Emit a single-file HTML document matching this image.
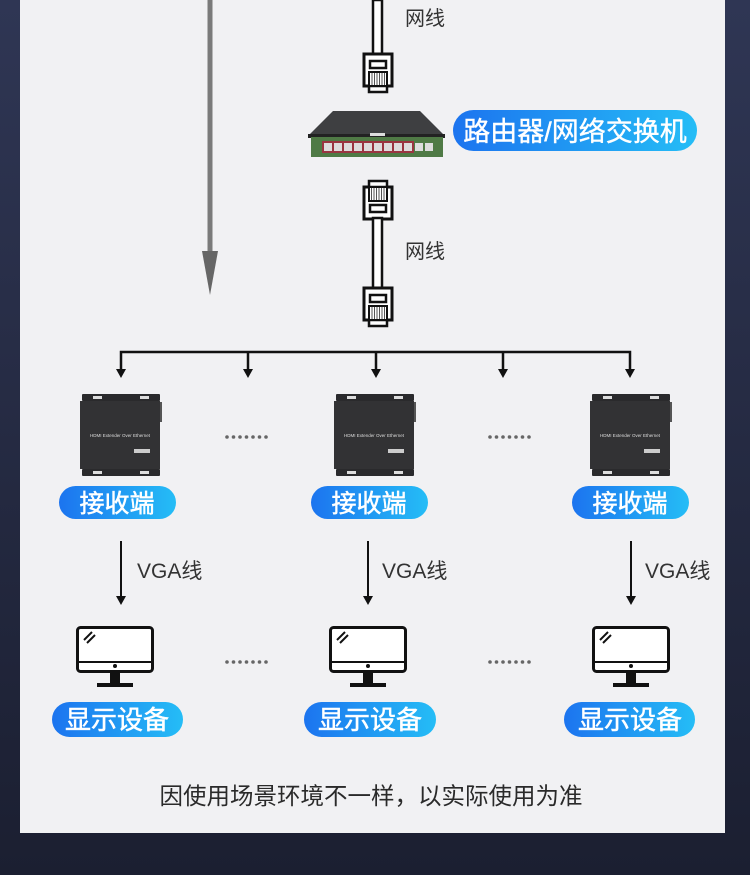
<!DOCTYPE html>
<html><head><meta charset="utf-8"><style>
html,body{margin:0;padding:0;width:750px;height:875px;overflow:hidden;background:#1d2236;}
svg{display:block}
text{font-family:"Liberation Sans","Noto Sans CJK SC",sans-serif;}
</style></head><body>
<svg width="750" height="875" viewBox="0 0 750 875" xmlns="http://www.w3.org/2000/svg">
<defs>
<linearGradient id="bg" x1="0" y1="0" x2="0" y2="1"><stop offset="0" stop-color="#2f3654"/><stop offset="1" stop-color="#1b1f31"/></linearGradient>
<linearGradient id="pill" x1="0" y1="0" x2="1" y2="0"><stop offset="0" stop-color="#1c74ef"/><stop offset="1" stop-color="#25bdf6"/></linearGradient>
<g id="plug">
 <rect x="0" y="0" width="28" height="32" fill="#fff" stroke="#111" stroke-width="3"/>
 <rect x="5" y="32" width="18" height="6" fill="#fff" stroke="#111" stroke-width="2.5"/>
 <rect x="6" y="7" width="16" height="7" fill="#fff" stroke="#111" stroke-width="2.5"/>
 <rect x="5" y="18" width="18" height="14" fill="#fff" stroke="#111" stroke-width="2"/>
 <path d="M8 19v12M10.5 19v12M13 19v12M15.5 19v12M18 19v12M20.5 19v12" stroke="#555" stroke-width="1"/>
</g>
<g id="recv">
 <rect x="2" y="0" width="78" height="7" rx="1" fill="#2a2a2c"/>
 <rect x="2" y="75" width="78" height="7" rx="1" fill="#2a2a2c"/>
 <rect x="13" y="2" width="9" height="3" fill="#ddd"/><rect x="60" y="2" width="9" height="3" fill="#ddd"/>
 <rect x="13" y="77" width="9" height="3" fill="#ddd"/><rect x="60" y="77" width="9" height="3" fill="#ddd"/>
 <rect x="0" y="7" width="80" height="68" fill="#323234"/>
 <rect x="80" y="8" width="2" height="20" fill="#555"/>
 <text x="40" y="43" font-size="4.5" fill="#ddd" text-anchor="middle">HDMI Extender Over Ethernet</text>
 <rect x="54" y="55" width="16" height="4" fill="#ccc"/>
</g>
<g id="mon">
 <rect x="1.5" y="1.5" width="75" height="44" rx="3" fill="#fff" stroke="#111" stroke-width="3"/>
 <line x1="1.5" y1="36" x2="76.5" y2="36" stroke="#111" stroke-width="2"/>
 <circle cx="39" cy="40" r="2" fill="#111"/>
 <path d="M8 14l8-8M11 17l8-8" stroke="#111" stroke-width="2"/>
 <rect x="34" y="46" width="10" height="12" fill="#111"/>
 <rect x="21" y="57" width="36" height="4" fill="#111"/>
</g>
<g id="dots" fill="#666">
 <circle cx="0" cy="0" r="1.8"/><circle cx="6.5" cy="0" r="1.8"/><circle cx="13" cy="0" r="1.8"/><circle cx="19.5" cy="0" r="1.8"/><circle cx="26" cy="0" r="1.8"/><circle cx="32.5" cy="0" r="1.8"/><circle cx="39" cy="0" r="1.8"/>
</g>
<path id="ah" d="M-5 -9L5 -9L0 0z" fill="#111"/>
</defs>
<rect width="750" height="875" fill="url(#bg)"/>
<rect x="20" y="0" width="705" height="833" fill="#f1f1f3"/>

<rect x="207.5" y="0" width="5" height="255" fill="#7a7a7a"/>
<path d="M202 251L218 251L210 295z" fill="#666"/>

<rect x="373" y="0" width="9" height="54" fill="#fff" stroke="#111" stroke-width="2.5"/>
<g transform="translate(364,54)"><use href="#plug"/></g>
<text x="405" y="25" font-size="20" fill="#333">网线</text>

<path d="M333 111L420 111L445 136L308 136z" fill="#3e3f41"/>
<rect x="308" y="134" width="137" height="4" fill="#222"/>
<rect x="311" y="137" width="132" height="20" fill="#4f7a45"/>
<rect x="370" y="133" width="15" height="3" fill="#ddd"/>
<rect x="322" y="141" width="92" height="12" fill="#9a3540"/>
<g fill="#ddd">
<rect x="324" y="143" width="8" height="8"/><rect x="334" y="143" width="8" height="8"/><rect x="344" y="143" width="8" height="8"/><rect x="354" y="143" width="8" height="8"/><rect x="364" y="143" width="8" height="8"/><rect x="374" y="143" width="8" height="8"/><rect x="384" y="143" width="8" height="8"/><rect x="394" y="143" width="8" height="8"/><rect x="404" y="143" width="8" height="8"/>
<rect x="415" y="143" width="8" height="8"/><rect x="425" y="143" width="8" height="8"/>
</g>
<rect x="453" y="110" width="244" height="41" rx="20.5" fill="url(#pill)"/>
<text x="575" y="141" font-size="27" fill="#fff" stroke="#fff" stroke-width="0.4" text-anchor="middle">路由器/网络交换机</text>

<g transform="translate(392,219) rotate(180)"><use href="#plug"/></g>
<rect x="373" y="218" width="9" height="70" fill="#fff" stroke="#111" stroke-width="2.5"/>
<g transform="translate(364,288)"><use href="#plug"/></g>
<text x="405" y="258" font-size="20" fill="#333">网线</text>

<path d="M121 370V352H630V370" fill="none" stroke="#111" stroke-width="2.5"/>
<g stroke="#111" stroke-width="2.5">
<line x1="248" y1="352" x2="248" y2="370"/>
<line x1="376" y1="352" x2="376" y2="370"/>
<line x1="503" y1="352" x2="503" y2="370"/>
</g>
<use href="#ah" x="121" y="378"/><use href="#ah" x="248" y="378"/><use href="#ah" x="376" y="378"/><use href="#ah" x="503" y="378"/><use href="#ah" x="630" y="378"/>

<g transform="translate(80,394)"><use href="#recv"/></g>
<g transform="translate(334,394)"><use href="#recv"/></g>
<g transform="translate(590,394)"><use href="#recv"/></g>
<use href="#dots" x="227" y="437"/>
<use href="#dots" x="490" y="437"/>

<rect x="59" y="486" width="117" height="33" rx="16.5" fill="url(#pill)"/>
<rect x="311" y="486" width="117" height="33" rx="16.5" fill="url(#pill)"/>
<rect x="572" y="486" width="117" height="33" rx="16.5" fill="url(#pill)"/>
<g font-size="25" fill="#fff" stroke="#fff" stroke-width="0.5" text-anchor="middle">
<text x="117" y="512">接收端</text><text x="369" y="512">接收端</text><text x="630" y="512">接收端</text>
</g>

<g stroke="#111" stroke-width="2">
<line x1="121" y1="541" x2="121" y2="597"/>
<line x1="368" y1="541" x2="368" y2="597"/>
<line x1="631" y1="541" x2="631" y2="597"/>
</g>
<use href="#ah" x="121" y="605"/><use href="#ah" x="368" y="605"/><use href="#ah" x="631" y="605"/>
<g font-size="21" fill="#333">
<text x="137" y="578">VGA线</text><text x="382" y="578">VGA线</text><text x="645" y="578">VGA线</text>
</g>

<g transform="translate(76,626)"><use href="#mon"/></g>
<g transform="translate(329,626)"><use href="#mon"/></g>
<g transform="translate(592,626)"><use href="#mon"/></g>
<use href="#dots" x="227" y="662"/>
<use href="#dots" x="490" y="662"/>

<rect x="52" y="702" width="131" height="35" rx="17.5" fill="url(#pill)"/>
<rect x="304" y="702" width="132" height="35" rx="17.5" fill="url(#pill)"/>
<rect x="564" y="702" width="131" height="35" rx="17.5" fill="url(#pill)"/>
<g font-size="26" fill="#fff" stroke="#fff" stroke-width="0.5" text-anchor="middle">
<text x="117" y="729">显示设备</text><text x="370" y="729">显示设备</text><text x="630" y="729">显示设备</text>
</g>

<text x="371" y="804" font-size="23.5" fill="#2a2a2a" text-anchor="middle">因使用场景环境不一样，以实际使用为准</text>
</svg>
</body></html>
